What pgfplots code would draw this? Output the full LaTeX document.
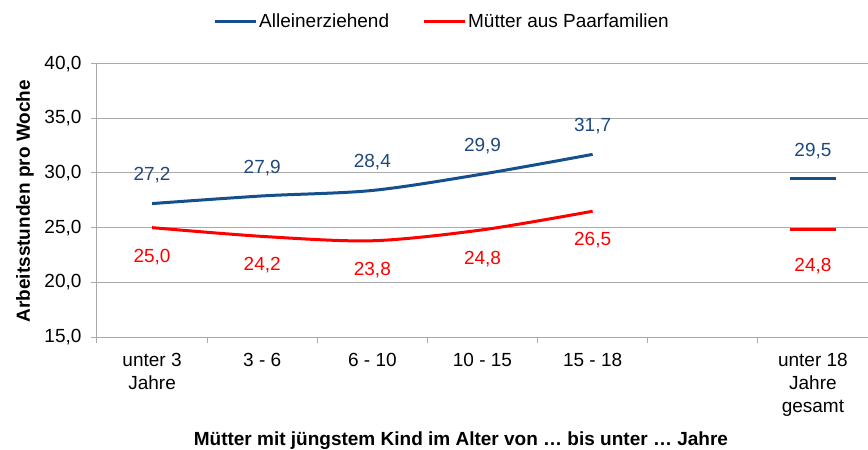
\documentclass[border=0pt]{standalone}
\usepackage{fontspec}
\setmainfont{Liberation Sans}
\usepackage{pgfplots}
\pgfplotsset{compat=1.18}
\definecolor{bl}{RGB}{21,80,140}
\definecolor{bltxt}{RGB}{31,73,125}
\definecolor{rd}{RGB}{255,0,0}
\definecolor{gridc}{RGB}{170,170,170}
\newcommand{\fs}{\fontsize{19}{23}\selectfont}
\begin{document}
\begin{tikzpicture}
\begin{axis}[
  at={(0,0)}, anchor=south west,
  scale only axis, width=771pt, height=273.4pt,
  xmin=-0.5, xmax=6.5, ymin=15, ymax=40,
  axis lines*=left,
  axis line style={draw=gridc, line width=1pt},
  tick align=outside,
  ytick={15,20,...,40},
  yticklabel={\pgfmathprintnumber[fixed,fixed zerofill,precision=1,use comma,assume math mode=true]{\tick}},
  ymajorgrids, grid style={draw=gridc, line width=1pt},
  major tick length=6pt, minor tick length=6pt,
  every tick/.style={draw=gridc, line width=1pt},
  xtick={0,...,6},
  xticklabels={unter 3\\Jahre, 3 - 6, 6 - 10, 10 - 15, 15 - 18, {}, unter 18\\Jahre\\gesamt},
  major x tick style={draw=none},
  minor xtick={-0.5,0.5,...,5.5},
  ticklabel style={font=\fs},
  xticklabel style={align=center, yshift=-7pt},
  yticklabel style={xshift=-6pt},
  xlabel={Mütter mit jüngstem Kind im Alter von … bis unter … Jahre},
  xlabel style={at={(0.472,-0.380)}, anchor=center, font=\bfseries\fs},
  ylabel={Arbeitsstunden pro Woche},
  ylabel style={at={(-0.0935,0.497)}, anchor=center, font=\bfseries\fs},
  legend style={at={(0.4475,1.155)}, anchor=center, draw=none, fill=none,
    legend columns=2, font=\fs, nodes={inner sep=2pt},
    /tikz/every even column/.append style={column sep=31pt}},
  legend image code/.code={\draw[#1, line width=3pt] (0pt,0pt) -- (41pt,0pt);},
  clip=false,
]
\addplot[bl, line width=3pt, smooth,
  nodes near coords={\pgfmathprintnumber[fixed,fixed zerofill,precision=1,use comma,assume math mode=true]{\pgfplotspointmeta}},
  every node near coord/.append style={font=\fs, text=bltxt, anchor=center, yshift=28pt}]
  coordinates {(0,27.2) (1,27.9) (2,28.4) (3,29.9) (4,31.7)};
\addlegendentry{Alleinerziehend}
\addplot[rd, line width=3pt, smooth,
  nodes near coords={\pgfmathprintnumber[fixed,fixed zerofill,precision=1,use comma,assume math mode=true]{\pgfplotspointmeta}},
  every node near coord/.append style={font=\fs, text=rd, anchor=center, yshift=-29pt}]
  coordinates {(0,25.0) (1,24.2) (2,23.8) (3,24.8) (4,26.5)};
\addlegendentry{Mütter aus Paarfamilien}
\addplot[draw=none, forget plot, mark=-, mark size=23pt, mark options={draw=bl, line width=3pt, solid},
  nodes near coords={\pgfmathprintnumber[fixed,fixed zerofill,precision=1,use comma,assume math mode=true]{\pgfplotspointmeta}},
  every node near coord/.append style={font=\fs, text=bltxt, anchor=center, yshift=27pt}]
  coordinates {(6,29.5)};
\addplot[draw=none, forget plot, mark=-, mark size=23pt, mark options={draw=rd, line width=3pt, solid},
  nodes near coords={\pgfmathprintnumber[fixed,fixed zerofill,precision=1,use comma,assume math mode=true]{\pgfplotspointmeta}},
  every node near coord/.append style={font=\fs, text=rd, anchor=center, yshift=-36pt}]
  coordinates {(6,24.8)};
\end{axis}
\pgfresetboundingbox
\path[use as bounding box] (-97pt,-113pt) rectangle (771pt,337pt);
\end{tikzpicture}
\end{document}
